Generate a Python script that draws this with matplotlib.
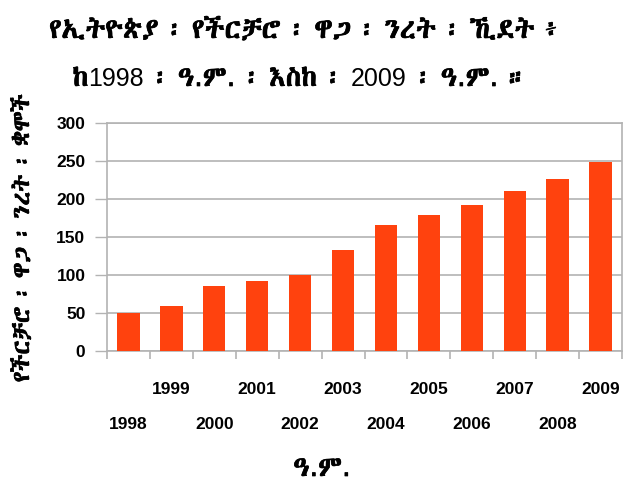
import matplotlib
matplotlib.use("Agg")
import matplotlib.pyplot as plt
import matplotlib.patheffects as pe
from matplotlib.transforms import ScaledTranslation
from matplotlib.offsetbox import TextArea, HPacker, AnchoredOffsetbox
import numpy as np

years = ["1998", "1999", "2000", "2001", "2002", "2003",
         "2004", "2005", "2006", "2007", "2008", "2009"]
values = [50, 59, 86, 92, 100, 133, 166, 179, 192, 211, 226, 249]
yticks = [0, 50, 100, 150, 200, 250, 300]

title1 = "የኢትዮጵያ ፡ የችርቻሮ ፡ ዋጋ ፡ ንረት ፡ ኺደት ፥"
title2_parts = ["ከ", "1998", " ፡ ዓ.ም. ፡ እስከ ፡ ", "2009", " ፡ ዓ.ም. ።"]
ylabel = "የችርቻሮ ፡ ዋጋ ፡ ንረት ፡ ቋሞች"
xlabel = "ዓ.ም."

ETH = ["DejaVu Sans", "Abyssinica SIL"]
NUM = "Liberation Sans"
grid_c = "#b3b3b3"
bar_c = "#ff420e"
bold_fx = [pe.Stroke(linewidth=0.5, foreground="black"), pe.Normal()]

fig = plt.figure(figsize=(6.28, 4.83), dpi=100)
ax = fig.add_axes([107/628, 1-351/483, (622-107)/628, (351-123)/483])

x = np.arange(len(years))
ax.bar(x, values, width=0.52, color=bar_c, zorder=3)

ax.set_xlim(-0.5, len(years) - 0.5)
ax.set_ylim(0, 300)
ax.set_yticks(yticks)
ax.set_yticklabels([str(v) for v in yticks], fontfamily=NUM, fontweight="bold", fontsize=12.5)
ax.yaxis.grid(True, color=grid_c, linewidth=1.2, zorder=0)
ax.tick_params(axis="y", length=8.5, width=1, color=grid_c, pad=7)

ax.set_xticks(x)
ax.set_xticklabels(years, fontfamily=NUM, fontweight="bold", fontsize=12.5)
ax.set_xticks(np.arange(len(years) + 1) - 0.5, minor=True)
ax.tick_params(axis="x", which="major", length=0, pad=22)
ax.tick_params(axis="x", which="minor", length=5.5, width=1.2, color=grid_c)
off = ScaledTranslation(0, -35/100, fig.dpi_scale_trans)
for i, lab in enumerate(ax.get_xticklabels()):
    if i % 2 == 0:
        lab.set_transform(lab.get_transform() + off)

for s in ax.spines.values():
    s.set_color(grid_c)
    s.set_linewidth(1.2)

fig.text(305/628, 1-30/483, title1, ha="center", va="center",
         family=ETH, fontsize=20, path_effects=bold_fx)

eth_props = dict(family=ETH, fontsize=20, path_effects=bold_fx, color="black")
num_props = dict(family=NUM, fontsize=18, color="black")
areas = [TextArea(p, textprops=(num_props if p.isdigit() else eth_props))
         for p in title2_parts]
box = HPacker(children=areas, align="baseline", pad=0, sep=0)
anch = AnchoredOffsetbox(loc="center", child=box, pad=0, borderpad=0, frameon=False,
                         bbox_to_anchor=(300/628, 1-78/483),
                         bbox_transform=fig.transFigure)
fig.add_artist(anch)

fig.text(322/628, 1-468/483, xlabel, ha="center", va="center",
         family=ETH, fontsize=20, path_effects=bold_fx)
fig.text(22/628, 1-238/483, ylabel, ha="center", va="center", rotation=90,
         family=ETH, fontsize=17, path_effects=bold_fx)

fig.savefig("out.png", dpi=100)
